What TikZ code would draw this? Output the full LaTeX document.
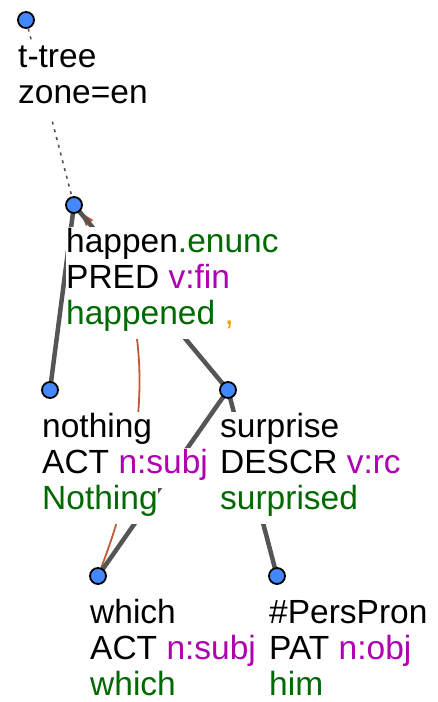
\documentclass[tikz,border=0pt]{standalone}
\usepackage{fontspec}
\setmainfont{Liberation Sans}
\usetikzlibrary{arrows.meta,backgrounds}
\definecolor{nodeblue}{HTML}{4488FF}
\definecolor{edgegray}{HTML}{555555}
\definecolor{corefred}{HTML}{C25A34}
\definecolor{tgreen}{HTML}{006A00}
\definecolor{tpurple}{HTML}{B000B0}
\definecolor{torange}{HTML}{F59A00}
\tikzset{
  % one picture unit = one pixel of the reference, y downwards
  tnode/.style={circle, draw=black, fill=nodeblue, line width=1.8pt,
    minimum size=16pt, inner sep=0pt},
  tline/.style={anchor=base west, fill=white, inner sep=0pt,
    text height=25pt, text depth=15pt, font=\fontsize{33.5}{36}\selectfont},
  depedge/.style={line width=4.5pt, edgegray},
  rootedge/.style={line width=1.6pt, edgegray, dash pattern=on 3pt off 5pt},
  coref/.style={line width=1.8pt, corefred, -{Triangle[length=15pt,width=9pt]}}
}

\begin{document}
\begin{tikzpicture}[x=1pt, y=-1pt]
\useasboundingbox (0,0) rectangle (437,702);

\def\dx{-8}
\def\rowA{47}
\def\rowB{83}
\def\rowC{119}

% Tree nodes
\node[tnode] (root)     at ( 26, 20) {};
\node[tnode] (happen)   at ( 74,205) {};
\node[tnode] (nothing)  at ( 50,390) {};
\node[tnode] (surprise) at (228,390) {};
\node[tnode] (which)    at ( 98,576) {};
\node[tnode] (perspron) at (277,576) {};

% Labels (white boxes hide the edges behind them)
\node[tline] (root-a) at ([shift={(\dx,\rowA)}]root) {t-tree};
\node[tline] (root-b) at ([shift={(\dx,\rowB)}]root) {zone=en};

\node[tline] (happen-a) at ([shift={(\dx,\rowA)}]happen) {happen\textcolor{tgreen}{.enunc}};
\node[tline] (happen-b) at ([shift={(\dx,\rowB)}]happen) {PRED \textcolor{tpurple}{v:fin}};
\node[tline] (happen-c) at ([shift={(\dx,\rowC)}]happen) {\textcolor{tgreen}{happened} \textcolor{torange}{,}};

\node[tline] (nothing-a) at ([shift={(\dx,\rowA)}]nothing) {nothing};
\node[tline] (nothing-b) at ([shift={(\dx,\rowB)}]nothing) {ACT \textcolor{tpurple}{n:subj}};
\node[tline] (nothing-c) at ([shift={(\dx,\rowC)}]nothing) {\textcolor{tgreen}{Nothing}};

\node[tline] (surprise-a) at ([shift={(\dx,\rowA)}]surprise) {surprise};
\node[tline] (surprise-b) at ([shift={(\dx,\rowB)}]surprise) {DESCR \textcolor{tpurple}{v:rc}};
\node[tline] (surprise-c) at ([shift={(\dx,\rowC)}]surprise) {\textcolor{tgreen}{surprised}};

\node[tline] (which-a) at ([shift={(\dx,\rowA)}]which) {which};
\node[tline] (which-b) at ([shift={(\dx,\rowB)}]which) {ACT \textcolor{tpurple}{n:subj}};
\node[tline] (which-c) at ([shift={(\dx,\rowC)}]which) {\textcolor{tgreen}{which}};

\node[tline] (perspron-a) at ([shift={(\dx,\rowA)}]perspron) {\#PersPron};
\node[tline] (perspron-b) at ([shift={(\dx,\rowB)}]perspron) {PAT \textcolor{tpurple}{n:obj}};
\node[tline] (perspron-c) at ([shift={(\dx,\rowC)}]perspron) {\textcolor{tgreen}{him}};

% Edges (under labels and nodes)
\begin{pgfonlayer}{background}
\draw[coref] (which) .. controls (156,425) and (152,295) .. (happen);
\draw[rootedge] (root) -- (happen);
\draw[depedge] (happen.center) -- (nothing.center);
\draw[depedge] (happen.center) -- (surprise.center);
\draw[depedge] (surprise.center) -- (which.center);
\draw[depedge] (surprise.center) -- (perspron.center);
\end{pgfonlayer}

\end{tikzpicture}
\end{document}
